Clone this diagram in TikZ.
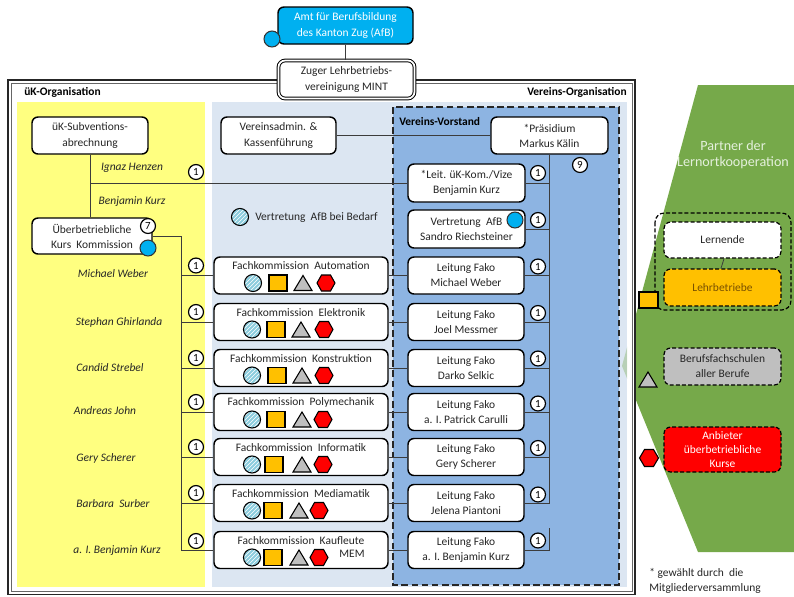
\documentclass[tikz,border=0pt]{standalone}
\usepackage{fontspec}
\setmainfont{Carlito}
\usetikzlibrary{patterns}
\definecolor{afbblue}{RGB}{0,176,240}
\definecolor{ukyellow}{RGB}{255,255,128}
\definecolor{lightblue}{RGB}{220,230,242}
\definecolor{vorstandblue}{RGB}{141,180,226}
\definecolor{partnergreen}{RGB}{118,169,74}
\definecolor{hatchblue}{RGB}{140,205,222}
\definecolor{orangesq}{RGB}{255,192,0}
\definecolor{graytri}{RGB}{191,191,191}
\definecolor{redhex}{RGB}{255,0,0}
\definecolor{palegreen}{RGB}{228,240,220}
\definecolor{linegray}{RGB}{60,60,60}
\definecolor{txtgray}{RGB}{38,38,38}
\definecolor{lehrtxt}{RGB}{120,80,0}

\newcommand{\fkicons}[5]{%
  \fill[hatchblue] (#1,#5) circle (6.4pt);
  \fill[pattern=north east lines, pattern color=white] (#1,#5) circle (6.3pt);
  \draw[line width=0.8pt] (#1,#5) circle (6.4pt);
  \draw[line width=0.8pt, fill=orangesq] ({#2-9},{#5-8}) rectangle ({#2+9},{#5+8});
  \draw[line width=0.8pt, fill=graytri] ({#3-9},{#5+7.5}) -- ({#3+9},{#5+7.5}) -- (#3,{#5-7.5}) -- cycle;
  \draw[line width=0.8pt, fill=redhex] ({#4-9},#5) -- ({#4-4.5},{#5-8}) -- ({#4+4.5},{#5-8}) -- ({#4+9},#5) -- ({#4+4.5},{#5+8}) -- ({#4-4.5},{#5+8}) -- cycle;
}

\tikzset{
  basefont/.style={font=\fontsize{8.6}{11.3}\selectfont},
  rbox/.style={draw=black, line width=1.1pt, rounded corners=4.5pt, fill=white, align=center,
    inner sep=1pt, text=txtgray, basefont},
  txt/.style={inner sep=0pt, text=txtgray, basefont},
  bold/.style={inner sep=0pt, text=black, font=\fontsize{8.6}{11.3}\selectfont\bfseries},
  nm/.style={inner sep=0pt, text=txtgray, font=\fontsize{8.6}{11.3}\selectfont\itshape},
  numc/.style={circle, draw=black, line width=0.9pt, fill=white, minimum size=11.2pt, inner sep=0pt,
    text=black, font=\fontsize{8.2}{8.2}\selectfont},
  conn/.style={draw=linegray, line width=0.6pt},
  fkbox/.style={rbox, minimum width=130.5pt, minimum height=27.75pt},
  lfbox/.style={rbox, minimum width=87pt, minimum height=27.75pt},
  pbox/.style={draw=black, line width=0.9pt, dash pattern=on 3pt off 1.6pt, rounded corners=5pt,
    align=center, inner sep=1pt, basefont, minimum width=87.75pt},
  bluedot/.style={circle, draw=black!80, line width=0.8pt, fill=afbblue, minimum size=12pt, inner sep=0pt},
}

\begin{document}
\begin{tikzpicture}[x=0.75pt,y=-0.75pt]
\useasboundingbox (0,0) rectangle (794,597);

% green partner area
\fill[partnergreen] (698,85) -- (794,85) -- (794,552) -- (698,552) -- (622,366) -- cycle;

% main frame (double line)
\fill[white] (8,80) rectangle (635,594.5);
\draw[black!85, line width=1pt] (8,80) rectangle (635,594.5);
\draw[black!60, line width=0.6pt] (11,83) rectangle (632,591.5);

% regions
\fill[ukyellow] (17,102) rectangle (205,587);
\fill[lightblue] (212,102) rectangle (627,587);
\begin{scope}
  \clip (212,102) rectangle (627,587);
  \fill[partnergreen, opacity=0.35] (698,85) -- (794,85) -- (794,552) -- (698,552) -- (622,366) -- cycle;
\end{scope}
\draw[black!85, line width=1.1pt, dash pattern=on 5pt off 2.6pt, fill=vorstandblue] (393,107) rectangle (619,585);

% region labels
\node[bold, anchor=west] (lukorg) at (24,92) {üK-Organisation};
\node[bold, anchor=east] (lverorg) at (627,92) {Vereins-Organisation};
\node[bold, anchor=west] (lvorst) at (399,122) {Vereins-Vorstand};

% top boxes
\node[rbox, fill=afbblue, text=white, minimum width=101.25pt, minimum height=27.75pt] (amt) at (345.5,25.5)
  {Amt für Berufsbildung\\des Kanton Zug (AfB)};
\node[bluedot] (amtdot) at (272,39) {};
\node[draw=black, line width=0.75pt, double=white, double distance=1.3pt, rounded corners=5pt, fill=white,
  align=center, inner sep=1pt, text=txtgray, basefont, minimum width=102pt, minimum height=28.5pt]
  (zuger) at (346.5,79.5) {Zuger Lehrbetriebs-\\vereinigung MINT};
\draw[conn] (amt.south) -- (amt.south |- zuger.north);

% left column boxes
\node[rbox, minimum width=87pt, minimum height=27.75pt] (uksub) at (90,135.5) {üK-Subventions-\\abrechnung};
\node[rbox, minimum width=90pt, minimum height=27pt] (ueber) at (92,236) {Überbetriebliche\\Kurs\ \ Kommission};
\node[numc] (n7) at (148,226) {7};
\node[bluedot] (ueberdot) at (148,248) {};

% Verein boxes
\node[rbox, minimum width=86.25pt, minimum height=27.75pt] (vadmin) at (278.5,135.5) {Vereinsadmin. \&\\Kassenführung};
\node[rbox, minimum width=87.75pt, minimum height=27.75pt] (praes) at (549.5,135.5) {*Präsidium\\Markus Kälin};
\node[numc] (n9) at (580,165) {9};
\node[rbox, minimum width=87.75pt, minimum height=28.5pt] (leituk) at (466.5,183) {*Leit. üK-Kom./Vize\\Benjamin Kurz};
\node[rbox, minimum width=87.75pt, minimum height=28.5pt] (vertafb) at (466.5,229) {Vertretung\ \ AfB\hspace{10pt}\\Sandro Riechsteiner};
\node[bluedot] (vertdot) at (515,220) {};
\node[numc] (nlu) at (538,173) {1};
\node[numc] (nva) at (538,220) {1};

% legend hatched circle
\fill[hatchblue] (240,217) circle (6.4pt);
\fill[pattern=north east lines, pattern color=white] (240,217) circle (6.3pt);
\draw[line width=0.8pt] (240,217) circle (6.4pt);
\node[txt, anchor=west] (vbb) at (255,217) {Vertretung\ \ AfB bei Bedarf};

% names
\node[nm] (nmih) at (132,168) {Ignaz Henzen};
\node[numc] (nih) at (196,172) {1};
\node[nm] (nmbk) at (132,202) {Benjamin Kurz};
\node[nm] (nm1) at (113,274) {Michael Weber};
\node[nm] (nm2) at (119,322) {Stephan Ghirlanda};
\node[nm] (nm3) at (110,368) {Candid Strebel};
\node[nm] (nm4) at (105,411) {Andreas John};
\node[nm] (nm5) at (106,458) {Gery Scherer};
\node[nm] (nm6) at (113,504) {Barbara\ \ Surber};
\node[nm] (nm7) at (117,551) {a. I. Benjamin Kurz};

% Fachkommission rows
\node[fkbox] (fk1) at (301,275.5) {};
\node[txt] (fk1t) at ([yshift=-7pt]fk1.north) {Fachkommission\ \ Automation};
\fkicons{253}{278}{303}{326}{283}
\node[fkbox] (fk2) at (301,322) {};
\node[txt] (fk2t) at ([yshift=-7pt]fk2.north) {Fachkommission\ \ Elektronik};
\fkicons{252}{276}{301}{324}{329.5}
\node[fkbox] (fk3) at (301,368) {};
\node[txt] (fk3t) at ([yshift=-7pt]fk3.north) {Fachkommission\ \ Konstruktion};
\fkicons{252}{277}{302}{324}{375.5}
\node[fkbox] (fk4) at (301,412) {};
\node[txt] (fk4t) at ([yshift=-7pt]fk4.north) {Fachkommission\ \ Polymechanik};
\fkicons{252}{276}{302}{323}{419.5}
\node[fkbox] (fk5) at (301,457) {};
\node[txt] (fk5t) at ([yshift=-7pt]fk5.north) {Fachkommission\ \ Informatik};
\fkicons{252}{274}{302}{323}{464.5}
\node[fkbox] (fk6) at (301,503) {};
\node[txt] (fk6t) at ([yshift=-7pt]fk6.north) {Fachkommission\ \ Mediamatik};
\fkicons{252}{273}{299}{319}{510.5}
\node[fkbox] (fk7) at (301,550) {};
\node[txt] (fk7t) at ([yshift=-7pt]fk7.north) {Fachkommission\ \ Kaufleute};
\fkicons{252}{273}{299}{319}{557.5}
\node[txt] (mem) at (352,554) {MEM};

% Leitung Fako boxes
\node[lfbox] (lf1) at (466,275.5) {Leitung Fako\\Michael Weber};
\node[lfbox] (lf2) at (466,322) {Leitung Fako\\Joel Messmer};
\node[lfbox] (lf3) at (466,368) {Leitung Fako\\Darko Selkic};
\node[lfbox] (lf4) at (466,412) {Leitung Fako\\a. I. Patrick Carulli};
\node[lfbox] (lf5) at (466,457) {Leitung Fako\\Gery Scherer};
\node[lfbox] (lf6) at (466,503) {Leitung Fako\\Jelena Piantoni};
\node[lfbox] (lf7) at (466,550) {Leitung Fako\\a. I. Benjamin Kurz};

% number circles rows
\node[numc] (nl1) at (196,265.5) {1};
\node[numc] (nl2) at (196,312) {1};
\node[numc] (nl3) at (196,358) {1};
\node[numc] (nl4) at (196,402) {1};
\node[numc] (nl5) at (196,447) {1};
\node[numc] (nl6) at (196,493) {1};
\node[numc] (nl7) at (196,541) {1};
\node[numc] (nr1) at (538,266.5) {1};
\node[numc] (nr2) at (538,313) {1};
\node[numc] (nr3) at (538,358.5) {1};
\node[numc] (nr4) at (538,403.5) {1};
\node[numc] (nr5) at (538,448) {1};
\node[numc] (nr6) at (538,494.5) {1};
\node[numc] (nr7) at (538,540.5) {1};

% connectors
\coordinate (fkbus) at (181,236);
\coordinate (fkbusend) at (181,550);
\coordinate (gaptop) at (549.5,528);
\draw[conn] (uksub.south) -- (uksub.south |- ueber.north);
\draw[conn] (uksub.south |- leituk.west) -- (leituk.west);
\draw[conn] (vadmin.east) -- (praes.west);
\draw[conn] (ueber.east) -- (fkbus) -- (fkbusend);
\draw[conn] (praes.south) -- (praes.south |- lf6.east);
\draw[conn] (leituk.east) -- (praes.south |- leituk.east);
\draw[conn] (vertafb.east) -- (praes.south |- vertafb.east);
\draw[conn] (gaptop) -- (gaptop |- lf7.east) -- (lf7.east);
\foreach \i in {1,...,7}{
  \draw[conn] (fkbus |- fk\i.west) -- (fk\i.west);
  \draw[conn] (fk\i.east) -- (lf\i.west);
}
\foreach \i in {1,...,6}{
  \draw[conn] (lf\i.east) -- (praes.south |- lf\i.east);
}

% partner area
\node[inner sep=0pt, text=palegreen, align=center, font=\fontsize{10.6}{12.2}\selectfont] (partner) at (733,155)
  {Partner der\\Lernortkooperation};
\draw[black, line width=0.9pt, dash pattern=on 3pt off 1.6pt, rounded corners=7pt] (655,213) rectangle (791,310);
\node[pbox, fill=white, text=txtgray, minimum height=27pt] (lern) at (722.5,240) {Lernende};
\node[pbox, fill=orangesq, text=lehrtxt, minimum height=27.75pt] (lehr) at (722.5,287.5) {Lehrbetriebe};
\draw[conn] ([xshift=1.2pt]lern.south) -- ([xshift=-1.2pt]lehr.north);
\node[pbox, fill=graytri, text=txtgray, minimum height=27.75pt] (bfs) at (722.5,366.5) {Berufsfachschulen\\aller Berufe};
\node[pbox, fill=redhex, text=white, minimum height=33.75pt, font=\fontsize{8.6}{10.5}\selectfont] (anb) at (722.5,449.5)
  {Anbieter\\überbetriebliche\\Kurse};
\draw[line width=0.8pt, fill=orangesq] (639,292) rectangle (658,308);
\draw[line width=0.8pt, fill=graytri] (639,387) -- (657,387) -- (648,372) -- cycle;
\draw[line width=0.8pt, fill=redhex] (639.5,458) -- (644.5,449.5) -- (653.5,449.5) -- (658.5,458) -- (653.5,466.5) -- (644.5,466.5) -- cycle;

% footnote
\node[txt, anchor=west, align=left] (fn) at (649,581) {* gewählt durch\ \ die\\Mitgliederversammlung};

\end{tikzpicture}
\end{document}
